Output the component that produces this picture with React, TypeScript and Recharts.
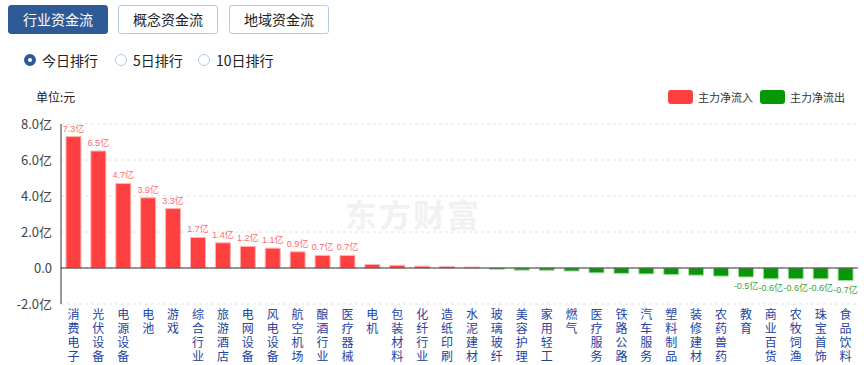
import { BarChart, Bar, XAxis, YAxis, CartesianGrid, ReferenceLine, Cell, LabelList } from 'recharts';

const categories = ['消费电子', '光伏设备', '电源设备', '电池', '游戏', '综合行业', '旅游酒店', '电网设备', '风电设备', '航空机场', '酿酒行业', '医疗器械', '电机', '包装材料', '化纤行业', '造纸印刷', '水泥建材', '玻璃玻纤', '美容护理', '家用轻工', '燃气', '医疗服务', '铁路公路', '汽车服务', '塑料制品', '装修建材', '农药兽药', '教育', '商业百货', '农牧饲渔', '珠宝首饰', '食品饮料'];
const netFlow = [7.3, 6.5, 4.7, 3.9, 3.3, 1.7, 1.4, 1.2, 1.1, 0.9, 0.7, 0.7, 0.2, 0.15, 0.1, 0.08, 0.05, -0.07, -0.12, -0.13, -0.17, -0.27, -0.3, -0.33, -0.37, -0.4, -0.45, -0.5, -0.6, -0.6, -0.6, -0.7];
const yTicks = [-2, 0, 2, 4, 6, 8];
const tabs = ['行业资金流', '概念资金流', '地域资金流'];
const ranks = ['今日排行', '5日排行', '10日排行'];

const data = categories.map((name, i) => ({ name, value: netFlow[i] }));

const RED = '#ff4040';
const GREEN = '#069806';
const LABEL_FONT = "'Liberation Sans', 'Noto Sans CJK SC', sans-serif";

const VerticalTick = ({ x, y, payload }: any) => {
    const chars = String(payload.value).split('');
    return (
        <g>
            {chars.map((c, i) => (
                <text key={i} x={x} y={y + 7 + i * 14} textAnchor="middle" fontSize={12} fill="#2443a3" fontFamily="'Noto Sans CJK SC', sans-serif">{c}</text>
            ))}
        </g>
    );
};

const ValueLabel = (props: any) => {
    const { x, y, width, height, value } = props;
    if (Math.abs(value) < 0.5) return null;
    const cx = x + width / 2;
    const top = Math.min(y, y + height);
    const bottom = Math.max(y, y + height);
    if (value >= 0) {
        return <text x={cx} y={top - 5} textAnchor="middle" fontSize={9} fontFamily={LABEL_FONT} fill="#ff6a6a">{value.toFixed(1)}亿</text>;
    }
    return <text x={cx} y={bottom + 12} textAnchor="middle" fontSize={9} fontFamily={LABEL_FONT} fill="#36a336">{value.toFixed(1)}亿</text>;
};

export default function App() {
    return (
        <div style={{ position: 'absolute', left: 0, top: 0, width: 864, height: 365, background: '#fff', fontFamily: "'Noto Sans CJK SC', sans-serif", overflow: 'hidden' }}>
            {tabs.map((t, i) => (
                <div key={t} style={{
                    position: 'absolute', left: [8, 118, 229][i], top: 5, width: 100, height: 29, boxSizing: 'border-box',
                    border: i === 0 ? '1px solid #2f5a98' : '1px solid #b4cbe6', borderRadius: 3,
                    background: i === 0 ? '#2f5a98' : '#fff', color: i === 0 ? '#fff' : '#222',
                    fontSize: 14, lineHeight: '27px', textAlign: 'center',
                }}>{t}</div>
            ))}
            {ranks.map((r, i) => {
                const left = [24, 115, 198][i];
                return (
                    <div key={r} style={{ position: 'absolute', left, top: 50, height: 20, display: 'flex', alignItems: 'center', fontSize: 14, color: '#222' }}>
                        <span style={{
                            display: 'inline-block', width: 12, height: 12, boxSizing: 'border-box', borderRadius: '50%',
                            border: i === 0 ? '4px solid #2f5a98' : '1px solid #b4cbe6', marginRight: 6, background: '#fff',
                        }} />
                        {r}
                    </div>
                );
            })}
            <div style={{ position: 'absolute', left: 36, top: 88, fontSize: 12, color: '#222' }}>单位:元</div>
            <div style={{ position: 'absolute', left: 668, top: 89, display: 'flex', alignItems: 'center', fontSize: 11, color: '#333' }}>
                <span style={{ display: 'inline-block', width: 25, height: 14, borderRadius: 3, background: RED, marginRight: 5 }} />
                <span style={{ marginRight: 7 }}>主力净流入</span>
                <span style={{ display: 'inline-block', width: 25, height: 14, borderRadius: 3, background: GREEN, marginRight: 5 }} />
                <span>主力净流出</span>
            </div>
            <div style={{ position: 'absolute', left: 345, top: 190, fontSize: 32, fontWeight: 700, color: '#f1f1f1', letterSpacing: 2 }}>东方财富</div>
            <div style={{ position: 'absolute', left: 0, top: 110 }}>
                <BarChart width={864} height={255} data={data} margin={{ top: 14, right: 6, bottom: 0, left: 0 }} barCategoryGap="20%">
                    <CartesianGrid horizontal vertical={false} stroke="#e2e2e2" strokeDasharray="3 3" />
                    <YAxis
                        width={61}
                        domain={[-2, 8]}
                        ticks={yTicks}
                        interval={0}
                        tickLine={false}
                        tickSize={0}
                        tickMargin={9}
                        axisLine={{ stroke: '#333' }}
                        tick={{ fontSize: 13, fill: '#444' }}
                        tickFormatter={(v: number) => (v === 0 ? '0.0' : `${v.toFixed(1)}亿`)}
                    />
                    <XAxis dataKey="name" interval={0} height={61} tickLine={false} axisLine={false} tick={<VerticalTick />} />
                    <ReferenceLine y={0} stroke="#333" />
                    <Bar dataKey="value" isAnimationActive={false}>
                        {data.map((d, i) => (
                            <Cell key={i} fill={d.value >= 0 ? RED : GREEN} stroke={d.value >= 0 ? '#ffb3b3' : '#a9dda9'} strokeWidth={1} />
                        ))}
                        <LabelList dataKey="value" content={<ValueLabel />} />
                    </Bar>
                </BarChart>
            </div>
        </div>
    );
}
